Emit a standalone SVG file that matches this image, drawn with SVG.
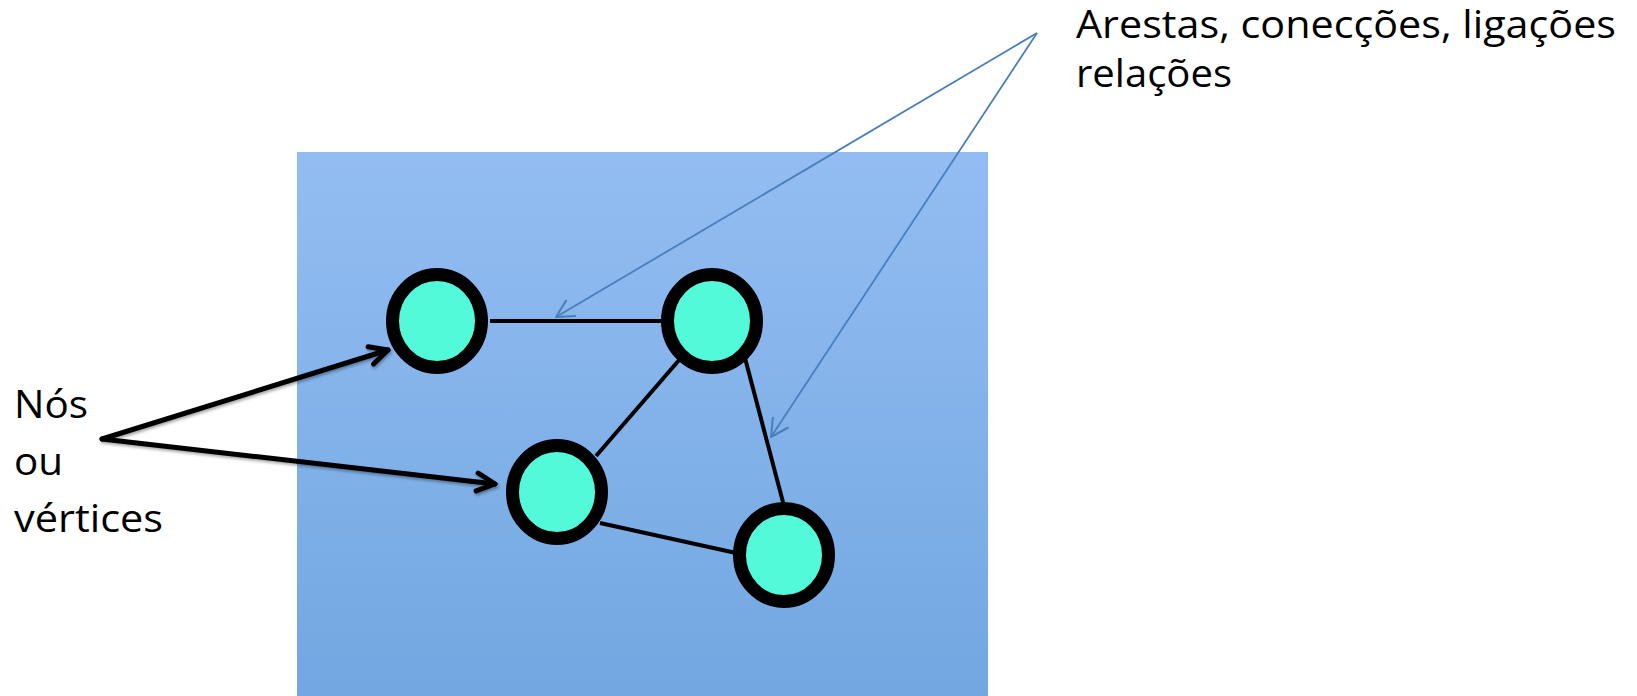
<svg xmlns="http://www.w3.org/2000/svg" width="1637" height="696" viewBox="0 0 1637 696">
  <style>
    .label { font-family: "Open Sans", "Liberation Sans", sans-serif; font-size: 38px; fill: #000; }
    .node { fill: #52FAD9; stroke: #000; stroke-width: 13; }
    .edge { stroke: #000; stroke-width: 4; fill: none; }
    .pointer { stroke: #000; stroke-width: 5; fill: none; stroke-linecap: round; }
    .callout { stroke: #4A7EBB; stroke-width: 1.8; fill: none; }
  </style>
  <defs>
    <linearGradient id="panelFill" x1="0" y1="0" x2="0" y2="1">
      <stop offset="0" stop-color="#93BDF2"/>
      <stop offset="1" stop-color="#72A7E1"/>
    </linearGradient>
    <filter id="soft" x="-10%" y="-10%" width="120%" height="120%">
      <feGaussianBlur stdDeviation="0.7"/>
    </filter>
    <filter id="shadow" x="-10%" y="-30%" width="120%" height="160%">
      <feDropShadow dx="1" dy="2" stdDeviation="1.5" flood-color="#000" flood-opacity="0.35"/>
    </filter>
    <marker id="openBlack" markerUnits="userSpaceOnUse" markerWidth="30" markerHeight="30" refX="0" refY="0" viewBox="-24 -15 30 30" orient="auto">
      <path d="M -18 -9 L 0 0 L -18 9" fill="none" stroke="#000" stroke-width="5" stroke-linecap="round" stroke-linejoin="round"/>
    </marker>
    <marker id="openBlue" markerUnits="userSpaceOnUse" markerWidth="30" markerHeight="30" refX="0" refY="0" viewBox="-24 -15 30 30" orient="auto">
      <path d="M -17 -9 L 0 0 L -17 9" fill="none" stroke="#4A7EBB" stroke-width="2" stroke-linecap="round" stroke-linejoin="round"/>
    </marker>
  </defs>

  <!-- background panel -->
  <rect id="panel" x="297" y="152" width="691" height="544" fill="url(#panelFill)"/>

  <!-- graph edges -->
  <g id="connectors">
    <line class="edge" x1="490" y1="321" x2="663" y2="321"/>
    <line class="edge" x1="680" y1="359" x2="596" y2="456"/>
    <line class="edge" x1="745" y1="358" x2="784" y2="506"/>
    <line class="edge" x1="600" y1="523" x2="736" y2="553"/>

    <!-- pointers from the left label -->
    <g filter="url(#shadow)">
      <line class="pointer" x1="102" y1="439" x2="388" y2="350" marker-end="url(#openBlack)"/>
      <line class="pointer" x1="102" y1="439" x2="495" y2="484" marker-end="url(#openBlack)"/>
    </g>
  </g>

  <!-- vertices -->
  <g id="node1" filter="url(#soft)"><ellipse class="node" cx="437" cy="321" rx="44.5" ry="46.5"/></g>
  <g id="node2" filter="url(#soft)"><ellipse class="node" cx="712" cy="321" rx="44.5" ry="46.5"/></g>
  <g id="node3" filter="url(#soft)"><ellipse class="node" cx="557" cy="492" rx="44.5" ry="46.5"/></g>
  <g id="node4" filter="url(#soft)"><ellipse class="node" cx="784" cy="555" rx="44.5" ry="46.5"/></g>

  <!-- callouts from the top-right label -->
  <g id="callouts">
    <line class="callout" x1="1037" y1="33" x2="556" y2="317" marker-end="url(#openBlue)"/>
    <line class="callout" x1="1037" y1="33" x2="771" y2="437" marker-end="url(#openBlue)"/>
  </g>

  <!-- labels -->
  <g id="label-edges">
    <text class="label" x="1076" y="38" textLength="540" lengthAdjust="spacingAndGlyphs">Arestas, conecções, ligações</text>
    <text class="label" x="1076" y="87" textLength="156" lengthAdjust="spacingAndGlyphs">relações</text>
  </g>
  <g id="label-nodes">
    <text class="label" x="14" y="418" textLength="74" lengthAdjust="spacingAndGlyphs">Nós</text>
    <text class="label" x="14" y="475" textLength="49" lengthAdjust="spacingAndGlyphs">ou</text>
    <text class="label" x="14" y="532" textLength="149" lengthAdjust="spacingAndGlyphs">vértices</text>
  </g>
</svg>
